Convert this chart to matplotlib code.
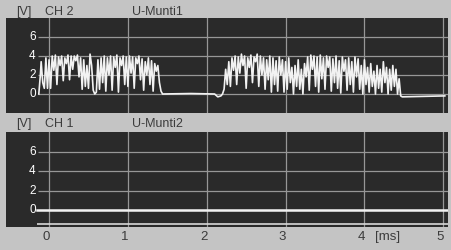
import matplotlib
matplotlib.use("Agg")
from matplotlib import pyplot as plt

plt.rcParams["font.family"] = ["Liberation Sans", "DejaVu Sans"]

# CH 2 (U-Munti1) trace: time [ms], voltage [V]
ch2_t = [-0.13, -0.11, -0.10, -0.08, -0.06, -0.04, -0.02, 0.00, 0.02, 0.04,
         0.06, 0.08, 0.10, 0.12, 0.14, 0.16, 0.18, 0.20, 0.22, 0.24,
         0.26, 0.28, 0.30, 0.32, 0.34, 0.36, 0.38, 0.40, 0.42, 0.44,
         0.46, 0.48, 0.50, 0.52, 0.54, 0.56, 0.58, 0.60, 0.62, 0.64,
         0.66, 0.68, 0.70, 0.72, 0.74, 0.76, 0.78, 0.80, 0.82, 0.84,
         0.86, 0.88, 0.90, 0.92, 0.94, 0.96, 0.98, 1.00, 1.02, 1.04,
         1.06, 1.08, 1.10, 1.12, 1.14, 1.16, 1.18, 1.20, 1.22, 1.24,
         1.26, 1.28, 1.30, 1.32, 1.34, 1.36, 1.38, 1.40, 1.42, 1.44,
         1.80, 2.10, 2.14, 2.18, 2.20,
         2.22, 2.24, 2.26, 2.28, 2.30, 2.32, 2.34, 2.36, 2.38, 2.40,
         2.42, 2.44, 2.46, 2.48, 2.50, 2.52, 2.54, 2.56, 2.58, 2.60,
         2.62, 2.64, 2.66, 2.68, 2.70, 2.72, 2.74, 2.76, 2.78, 2.80,
         2.82, 2.84, 2.86, 2.88, 2.90, 2.92, 2.94, 2.96, 2.98, 3.00,
         3.02, 3.04, 3.06, 3.08, 3.10, 3.12, 3.14, 3.16, 3.18, 3.20,
         3.22, 3.24, 3.26, 3.28, 3.30, 3.32, 3.34, 3.36, 3.38, 3.40,
         3.42, 3.44, 3.46, 3.48, 3.50, 3.52, 3.54, 3.56, 3.58, 3.60,
         3.62, 3.64, 3.66, 3.68, 3.70, 3.72, 3.74, 3.76, 3.78, 3.80,
         3.82, 3.84, 3.86, 3.88, 3.90, 3.92, 3.94, 3.96, 3.98, 4.00,
         4.02, 4.04, 4.06, 4.08, 4.10, 4.12, 4.14, 4.16, 4.18, 4.20,
         4.22, 4.24, 4.26, 4.28, 4.30, 4.32, 4.34, 4.36, 4.38, 4.40,
         4.42, 4.44, 4.46, 4.48, 5.02]
ch2_v = [0.0, 2.0, 3.4, 1.2, 0.6, 3.8, 0.6, 3.6, 0.6, 4.0,
         2.5, 4.1, 1.0, 3.9, 3.0, 4.0, 1.4, 3.8, 3.2, 4.1,
         1.5, 4.0, 2.6, 4.0, 3.5, 4.1, 1.8, 3.8, 0.5, 3.6,
         0.8, 3.0, 0.6, 4.2, 3.0, 0.4, 0.0, 0.2, 3.6, 0.5,
         3.8, 1.2, 4.0, 0.3, 3.8, 2.0, 4.0, 0.4, 3.9, 2.8,
         4.1, 0.2, 3.8, 3.0, 4.0, 1.0, 3.9, 0.8, 4.0, 2.2,
         3.9, 0.6, 3.8, 3.2, 4.0, 1.5, 3.7, 0.4, 3.4, 2.0,
         3.8, 1.0, 3.5, 0.3, 3.2, 2.4, 3.0, 1.2, 0.3, 0.0,
         0.05, 0.0, -0.3, -0.2, 0.0,
         0.5, 2.6, 1.0, 3.4, 0.8, 3.8, 2.5, 4.0, 1.0, 3.9,
         2.2, 4.2, 3.0, 4.0, 0.6, 3.8, 2.8, 4.1, 1.2, 3.9,
         3.4, 4.2, 0.8, 4.0, 2.0, 3.8, 0.5, 3.6, 1.5, 4.0,
         0.2, 3.8, 1.0, 3.5, 0.3, 3.9, 2.0, 3.6, 0.2, 3.4,
         0.5, 3.8, 1.2, 2.8, 0.0, 3.0, 0.8, 3.6, 0.5, 2.6,
         0.0, 3.2, 1.8, 3.9, 0.4, 4.1, 2.6, 4.0, 0.8, 3.9,
         0.2, 4.1, 1.6, 3.8, 0.5, 4.0, 2.8, 3.9, 0.3, 3.7,
         1.2, 4.0, 0.6, 3.5, 0.1, 3.9, 2.4, 3.6, 0.4, 3.8,
         1.0, 3.4, 0.2, 3.9, 1.8, 3.7, 0.5, 3.0, 0.0, 3.6,
         1.0, 2.8, 0.2, 3.2, 0.8, 2.4, 0.0, 3.0, 0.6, 2.6,
         0.2, 3.4, 1.2, 2.8, 0.0, 2.6, 0.4, 3.0, 0.8, 2.6,
         0.0, 1.6, -0.2, -0.3, -0.2]

# CH 1 (U-Munti2) trace: flat at 0 V
ch1_t = [-0.15, 5.06]
ch1_v = [0.0, 0.0]

y_ticks = [0, 2, 4, 6]
y_tick_labels = ["0", "2", "4", "6"]
x_ticks = [0, 1, 2, 3, 4, 5]
x_tick_labels = ["0", "1", "2", "3", "4", "5"]

bg = "#c4c4c4"
screen = "#2a2a2a"
grid = "#979797"
trace = "#f2f2f2"
txt = "#3c3c3c"

fig = plt.figure(figsize=(4.52, 2.5), dpi=100, facecolor=bg)

ax_top = fig.add_axes([6 / 452, 137 / 250, 442 / 452, 95 / 250])
ax_bot = fig.add_axes([6 / 452, 23 / 250, 442 / 452, 95 / 250])

panels = [
    (ax_top, ch2_t, ch2_v, (-2.0, 8.0), "CH 2", "U-Munti1", 12),
    (ax_bot, ch1_t, ch1_v, (-1.76, 8.07), "CH 1", "U-Munti2", 124),
]

for ax, t, v, ylim, ch, name, head_y in panels:
    ax.set_facecolor(screen)
    ax.set_xlim(-0.546, 5.06)
    ax.set_ylim(*ylim)
    for s in ax.spines.values():
        s.set_visible(False)
    ax.set_xticks([])
    ax.set_yticks([])
    for xt in x_ticks:
        ax.axvline(xt, color=grid, lw=0.9, zorder=1)
    ax.hlines(y_ticks, -0.14, 5.06, color=grid, lw=0.9, zorder=1)
    for yt, lab in zip(y_ticks, y_tick_labels):
        ax.text(-0.17, yt, lab, color="white", fontsize=8.5,
                ha="right", va="center")
    ax.plot(t, v, color=trace, lw=1.2, zorder=3)

    # header strip texts
    fy = 1 - head_y / 250
    fig.text(16 / 452, fy, "[V]", color=txt, fontsize=9, va="center")
    fig.text(45 / 452, fy, ch, color=txt, fontsize=9, va="center")
    fig.text(132 / 452, fy, name, color=txt, fontsize=9, va="center")

# thicker zero line and bottom base line on CH 1
ax_bot.lines[-1].set_linewidth(1.8)
ax_bot.hlines(-1.45, -0.15, 5.06, color="#d8d8d8", lw=1.2, zorder=2)

# time axis labels
for xt, lab in zip(x_ticks, x_tick_labels):
    ax_bot.text(xt - 0.04, -0.105, lab, color=txt, fontsize=9.5,
                ha="center", va="center",
                transform=ax_bot.get_xaxis_transform())
ax_bot.text(4.29, -0.105, "[ms]", color=txt, fontsize=9.5,
            ha="center", va="center", transform=ax_bot.get_xaxis_transform())

plt.savefig("out.png", dpi=100, facecolor=bg)
plt.close()
